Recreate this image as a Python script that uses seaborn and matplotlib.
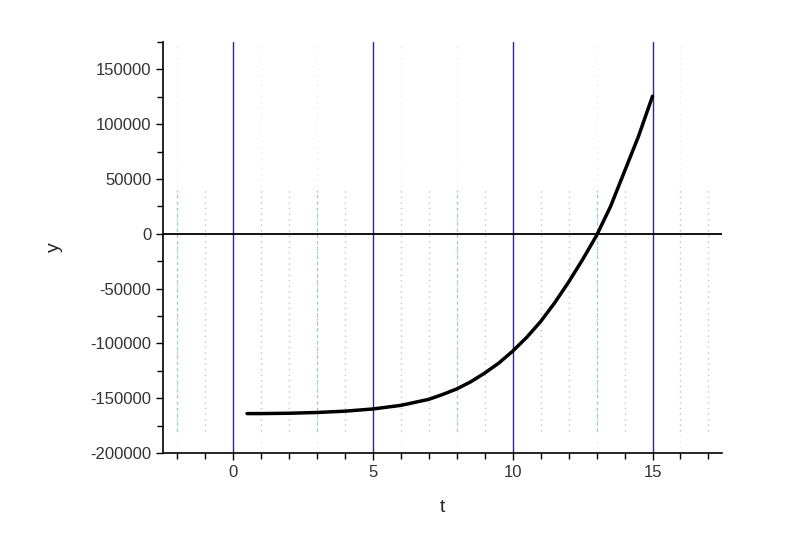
import numpy as np
import pandas as pd
import seaborn as sns
import matplotlib.pyplot as plt
from matplotlib.ticker import MultipleLocator

# values
t = [0.5, 1, 2, 3, 4, 5, 6, 7, 7.5, 8, 8.5, 9, 9.5, 10, 10.5, 11, 11.5,
     12, 12.5, 13, 13.5, 14, 14.5, 15]
y = [-164000, -164000, -163700, -163000, -161800, -159800, -156500, -151000,
     -146500, -141500, -135000, -127000, -118000, -107000, -94500, -80000,
     -63000, -44000, -23500, -1500, 25000, 57000, 89000, 125500]

blue_lines = [0, 5, 10, 15]
grey_lines = [-2, -1, 1, 2, 3, 4, 6, 7, 8, 9, 11, 12, 13, 14, 16, 17]
cyan_lines = [-2, 3, 8, 13]
faint_full = [-2, 1, 3, 6, 8, 13, 16]

df = pd.DataFrame({"t": t, "y": y})

sns.set_style("white")
plt.rcParams['font.family'] = ['Liberation Sans', 'DejaVu Sans']
plt.rcParams['axes.unicode_minus'] = False

fig = plt.figure(figsize=(8, 5.6), dpi=100)
ax = fig.add_axes([0.204, 0.191, 0.699, 0.734])

for x in faint_full:
    ax.axvline(x, color="#e6e6e6", ls=(0, (1, 4)), lw=0.8, zorder=0)
for x in grey_lines:
    ax.plot([x, x], [-180000, 40000], color="#c4c4c4", ls=(0, (1, 3)), lw=1.0, zorder=1)
for x in cyan_lines:
    ax.plot([x, x], [-180000, 40000], color="#8fd3d3", ls=(0, (3, 3)), lw=0.8, zorder=1)
for x in blue_lines:
    ax.axvline(x, color="#2b2b8c", lw=1.0, zorder=2)
ax.axhline(0, color="black", lw=1.3, zorder=2)

sns.lineplot(data=df, x="t", y="y", ax=ax, color="black", lw=2.5, zorder=3)

ax.set_xlim(-2.5, 17.5)
ax.xaxis.set_major_locator(MultipleLocator(5))
ax.xaxis.set_minor_locator(MultipleLocator(1))
ax.yaxis.set_minor_locator(MultipleLocator(25000))
ax.set_yticks(np.arange(-200000, 150001, 50000))
ax.set_ylim(-200000, 175000)

for s in ["top", "right"]:
    ax.spines[s].set_visible(False)
for s in ["left", "bottom"]:
    ax.spines[s].set_color("black")
    ax.spines[s].set_linewidth(1.2)

ax.tick_params(which="major", direction="out", length=5, width=1.0, color="black",
               left=True, bottom=True, labelsize=12, labelcolor="#333333")
ax.tick_params(which="minor", direction="out", length=4, width=1.0, color="black",
               left=True, bottom=True)

ax.set_xlabel("t", fontsize=14, labelpad=14)
ax.set_ylabel("y", fontsize=14, labelpad=20)

fig.savefig("out.png", dpi=100)
